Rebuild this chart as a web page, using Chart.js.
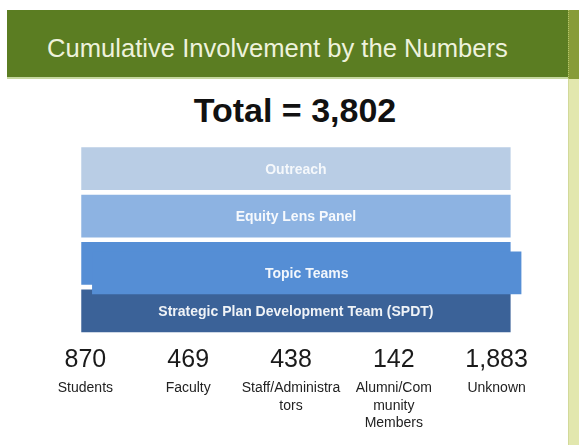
<!DOCTYPE html>
<html>
<head>
<meta charset="utf-8">
<script src="https://cdn.jsdelivr.net/npm/chart.js@4"></script>
<style>
  html, body { margin:0; padding:0; background:#ffffff; }
  body { width:579px; height:445px; position:relative; overflow:hidden; font-family:"Liberation Sans", Arial, sans-serif; }
  #header { position:absolute; left:7px; top:10px; width:561px; height:67px; background:#5b7d22; }
  #headerLine { position:absolute; left:7px; top:77px; width:561px; height:2px; background:#c6d8a0; }
  #title { position:absolute; left:47px; top:36px; font-size:25.6px; line-height:25px; color:#eef2dc; white-space:nowrap; }
  #stripTop { position:absolute; left:568px; top:10px; width:11px; height:69px; background:#879c38; border-left:1px dotted #b5c46a; box-sizing:border-box; }
  #strip { position:absolute; left:568px; top:79px; width:11px; height:366px; background:#e2e7ae; border-left:1px solid #d2d99a; box-sizing:border-box; }
  #total { position:absolute; left:95px; top:93px; width:400px; text-align:center; font-size:34px; line-height:34px; font-weight:bold; color:#111; white-space:nowrap; }
  #wrap { position:absolute; left:0; top:140px; width:568px; height:305px; }
</style>
</head>
<body>
<div id="header"></div>
<div id="headerLine"></div>
<div id="stripTop"></div>
<div id="strip"></div>
<div id="title">Cumulative Involvement by the Numbers</div>
<div id="total"></div>
<div id="wrap"><canvas id="c"></canvas></div>
<script>
// ---- data ----
const layerNames = ['Outreach', 'Equity Lens Panel', 'Topic Teams', 'Strategic Plan Development Team (SPDT)'];
const layerColors = ['#b9cde5', '#8db3e2', '#558ed5', '#3b6298'];
const groupCounts = [870, 469, 438, 142, 1883];
const groupLabels = [['Students'], ['Faculty'], ['Staff/Administra', 'tors'], ['Alumni/Com', 'munity', 'Members'], ['Unknown']];

const total = groupCounts.reduce((a, b) => a + b, 0);
document.getElementById('total').textContent = 'Total = ' + total.toLocaleString('en-US');

// layered sheets spanning the slide; Topic Teams is two overlapping sheets
const sheetStart = 0.0926, sheetEnd = 0.9266;
const frontShift = 0.021, frontDrop = 0.2;
const points = layerNames.map((n, i) => ({ x: [sheetStart, sheetEnd], y: i, name: (i === 2 ? '' : n) }));
points.push({ x: [sheetStart + frontShift, sheetEnd + frontShift], y: 2 + frontDrop, name: layerNames[2] });
const colors = layerColors.slice();
colors.push(layerColors[2]);

const labelPlugin = {
  id: 'sheetLabels',
  afterDatasetsDraw(chart) {
    const ctx = chart.ctx;
    const meta = chart.getDatasetMeta(0);
    ctx.save();
    ctx.font = 'bold 14px "Liberation Sans", Arial, sans-serif';
    ctx.textAlign = 'center';
    ctx.textBaseline = 'middle';
    meta.data.forEach((el, i) => {
      const name = points[i].name;
      if (!name) return;
      ctx.fillStyle = i === 0 ? 'rgba(255,255,255,0.85)' : 'rgba(255,255,255,0.92)';
      ctx.fillText(name, (el.x + el.base) / 2, el.y + 1);
    });
    ctx.restore();
  }
};

new Chart(document.getElementById('c'), {
  type: 'bar',
  data: {
    datasets: [{
      data: points,
      backgroundColor: colors,
      borderWidth: 0,
      barThickness: 42,
      maxBarThickness: 42
    }]
  },
  options: {
    indexAxis: 'y',
    responsive: true,
    maintainAspectRatio: false,
    animation: false,
    layout: { padding: { top: 5, left: 34, right: 20, bottom: 0.5 } },
    plugins: { legend: { display: false }, tooltip: { enabled: false } },
    scales: {
      x: { type: 'linear', min: 0, max: 1, display: false },
      y: { type: 'linear', min: -0.5, max: 3.5, reverse: true, offset: false, display: false },
      xn: {
        type: 'category', labels: groupCounts.map(v => v.toLocaleString('en-US')),
        position: 'bottom', weight: 1, offset: true,
        grid: { display: false }, border: { display: false },
        afterFit(s) { s.height = 40; },
        ticks: { autoSkip: false, maxRotation: 0, minRotation: 0, padding: 3, color: '#1a1a1a',
                 font: { family: '"Liberation Sans", Arial, sans-serif', size: 25, lineHeight: 1.2 } }
      },
      xl: {
        type: 'category', labels: groupLabels,
        position: 'bottom', weight: 2, offset: true,
        grid: { display: false }, border: { display: false },
        afterFit(s) { s.height = 70; },
        ticks: { autoSkip: false, maxRotation: 0, minRotation: 0, padding: -3, color: '#222',
                 font: { family: '"Liberation Sans", Arial, sans-serif', size: 14, lineHeight: 1.25 } }
      }
    }
  },
  plugins: [labelPlugin]
});
</script>
</body>
</html>
